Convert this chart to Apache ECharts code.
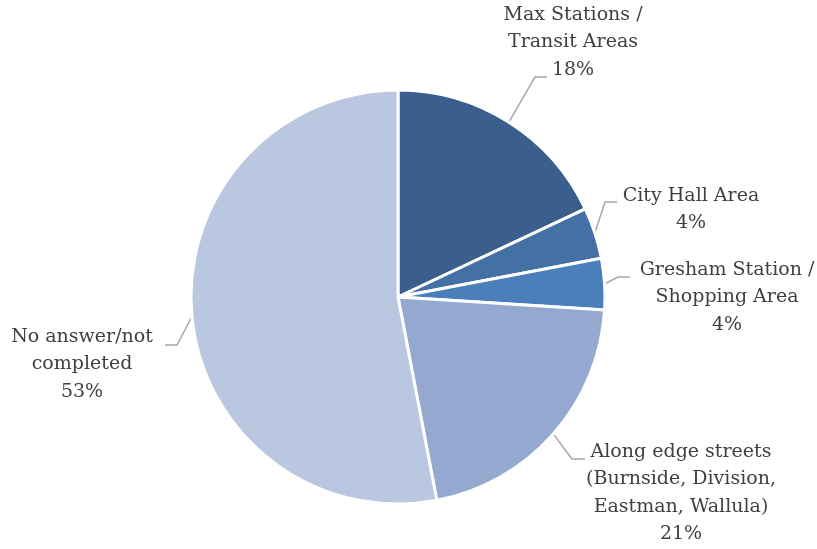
<!DOCTYPE html>
<html>
<head>
<meta charset="utf-8">
<script src="https://cdn.jsdelivr.net/npm/echarts@6/dist/echarts.min.js"></script>
<style>html,body{margin:0;padding:0;background:#fff;}#c{width:817px;height:549px;}</style>
</head>
<body>
<div id="c"></div>
<script>
const categories = ['Max Stations /\nTransit Areas', 'City Hall Area', 'Gresham Station /\nShopping Area', 'Along edge streets\n(Burnside, Division,\nEastman, Wallula)', 'No answer/not\ncompleted'];
const values = [18, 4, 4, 21, 53];

const colors = ['#3A5F8C', '#4371A6', '#4B7FBC', '#95A9D0', '#B9C7E0'];
const center = [398, 297];
const radius = 207;
// label block anchors: [centerX, topY, elbowX, elbowY, endX, endY]
const labelPlace = [
  [573, 1, 535, 77, 547, 77],
  [691, 182, 605, 202, 617, 202],
  [727, 256, 618, 277, 630, 277],
  [681, 438, 572, 459, 585, 459],
  [82, 323, 177, 345, 165, 345]
];
const total = values.reduce((a, b) => a + b, 0);
function edgePoint(i) {
  let before = 0;
  for (let k = 0; k < i; k++) before += values[k];
  const mid = (before + values[i] / 2) / total * Math.PI * 2;
  return [center[0] + radius * Math.sin(mid), center[1] - radius * Math.cos(mid)];
}
const chart = echarts.init(document.getElementById('c'));
chart.setOption({
  backgroundColor: '#ffffff',
  animation: false,
  series: [{
    type: 'pie',
    center: center,
    radius: radius,
    startAngle: 90,
    clockwise: true,
    data: categories.map((n, i) => ({ name: n, value: values[i], itemStyle: { color: colors[i] } })),
    itemStyle: { borderColor: '#ffffff', borderWidth: 3 },
    label: {
      show: true,
      formatter: '{b}\n{d}%',
      fontFamily: 'DejaVu Serif',
      fontSize: 19,
      lineHeight: 27.5,
      color: '#404040',
      align: 'center',
      overflow: 'none',
      width: 300
    },
    labelLine: { show: true, length: 20, length2: 10, lineStyle: { color: '#A6A6A6', width: 1.5 } },
    labelLayout: function (p) {
      const lp = labelPlace[p.dataIndex];
      const e = edgePoint(p.dataIndex);
      return {
        x: lp[0], y: lp[1], align: 'center', verticalAlign: 'top',
        labelLinePoints: [e, [lp[2], lp[3]], [lp[4], lp[5]]]
      };
    }
  }]
});
</script>
</body>
</html>
